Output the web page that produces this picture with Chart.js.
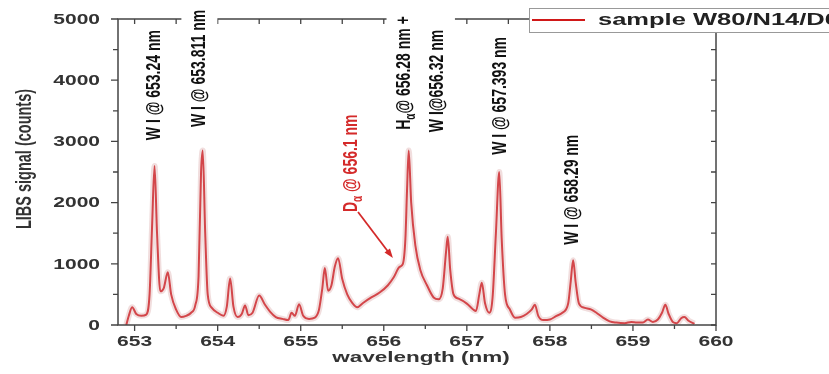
<!DOCTYPE html>
<html>
<head>
<meta charset="utf-8">
<title>LIBS spectrum</title>
<script src="https://cdn.jsdelivr.net/npm/chart.js@4"></script>
<style>
  html, body { margin: 0; padding: 0; background: #fff; }
  canvas { display: block; }
</style>
</head>
<body>
<canvas id="libsChart" width="829" height="374"></canvas>
<script>
// ── DATA ─────────────────────────────────────────────────────
const WL = [
  652.90, 652.93, 652.97, 653.02, 653.08, 653.14, 653.18, 653.21, 653.24, 653.27,
  653.31, 653.35, 653.40, 653.44, 653.50, 653.56, 653.62, 653.68, 653.73, 653.77,
  653.80, 653.82, 653.85, 653.88, 653.93, 654.00, 654.07, 654.11, 654.15, 654.19,
  654.24, 654.29, 654.33, 654.37, 654.42, 654.50, 654.57, 654.63, 654.70, 654.78,
  654.85, 654.89, 654.93, 654.98, 655.03, 655.10, 655.17, 655.22, 655.26, 655.29,
  655.33, 655.37, 655.41, 655.45, 655.50, 655.56, 655.62, 655.68, 655.75, 655.85,
  655.95, 656.05, 656.12, 656.19, 656.23, 656.26, 656.28, 656.30, 656.33, 656.38,
  656.44, 656.52, 656.60, 656.66, 656.71, 656.75, 656.77, 656.80, 656.84, 656.90,
  657.00, 657.08, 657.11, 657.15, 657.18, 657.22, 657.27, 657.31, 657.35, 657.39,
  657.42, 657.46, 657.52, 657.58, 657.65, 657.72, 657.78, 657.82, 657.86, 657.92,
  658.00, 658.08, 658.15, 658.22, 658.25, 658.28, 658.31, 658.35, 658.42, 658.50,
  658.56, 658.64, 658.72, 658.80, 658.90, 658.98, 659.05, 659.12, 659.18, 659.24,
  659.30, 659.35, 659.39, 659.43, 659.48, 659.53, 659.58, 659.62, 659.67, 659.74
];
const COUNTS = [
   0,  150,  290,  180,  150,  170,  500, 1600, 2600, 1500,
   550,  600,  860,  500,  250,  130,  150,  200,  320,  800,
  2500, 2850, 1500,  500,  280,  200,  150,  300,  760,  300,
   130,  180,  320,  160,  200,  480,  330,  220,  130,  100,
    80,  200,  150,  340,  150,  100,  120,  250,  600,  930,
   560,  650,  950, 1090,  750,  500,  360,  290,  360,  450,
   530,  650,  780,  950, 1000, 1400, 2200, 2850, 2000, 1300,
   900,  650,  450,  420,  600, 1200, 1440,  900,  500,  430,
   350,  250,  230,  500,  690,  350,  200,  450, 1500, 2500,
  1400,  500,  250,  120,  130,  180,  250,  330,  150,   80,
    90,  150,  200,  350,  700, 1060,  700,  350,  280,  250,
   200,  120,   60,   40,   30,   50,   40,   40,   90,   50,
    90,  200,  330,  180,   50,   30,  110,  130,   70,   20
];

const X_TICKS = [653, 654, 655, 656, 657, 658, 659, 660];
const X_MINOR = [653.5, 654.5, 655.5, 656.5, 657.5, 658.5, 659.5];
const Y_TICKS = [0, 1000, 2000, 3000, 4000, 5000];
const Y_MINOR = [500, 1500, 2500, 3500, 4500];

// peak annotations: text pieces (sub = subscript), anchor wavelength, counts at text start
const LABEL_PARTS = [
  [['W I @ 653.24 nm']],
  [['W I @ 653.811 nm']],
  [['D'], ['α', 1], [' @ 656.1 nm']],
  [['H'], ['α', 1], ['@ 656.28 nm +']],
  [['W I@656.32 nm']],
  [['W I @ 657.393 nm']],
  [['W I @ 658.29 nm']]
];
const LABEL_WL     = [653.24, 653.78, 655.61, 656.25, 656.64, 657.40, 658.27];
const LABEL_Y      = [3020, 3235, 1845, 3190, 3150, 2780, 1310];
const LABEL_COLOR  = ['#111', '#111', '#d42a2a', '#111', '#111', '#111', '#111'];
const LABEL_CLEAR  = [0, 0, 0, 0, 16, 0, 0];   // extra white above the text

const ARROW_FROM = [655.69, 1846];
const ARROW_TO   = [656.11, 1095];

const SERIES_NAME = 'sample W80/N14/D6';

// ── CHART ────────────────────────────────────────────────────
const SX = 1.5;   // the source figure is stretched sideways
const FONT = "'Liberation Sans', Arial, sans-serif";
const spectrum = WL.map((x, i) => ({ x, y: COUNTS[i] }));

function stretchedText(ctx, text, x, y, size, align, rot, color) {
  ctx.save();
  ctx.translate(x, y);
  ctx.scale(SX, 1);
  if (rot) ctx.rotate(-Math.PI / 2);
  ctx.font = `bold ${size}px ${FONT}`;
  ctx.textAlign = align;
  ctx.textBaseline = 'middle';
  ctx.fillStyle = color || '#333';
  ctx.fillText(text, 0, 0);
  ctx.restore();
}

const decor = {
  id: 'decor',
  afterDatasetsDraw(chart) {
    const { ctx, chartArea: a, scales: { x, y } } = chart;
    ctx.save();

    // frame
    ctx.strokeStyle = '#444';
    ctx.lineWidth = 1.5;
    ctx.strokeRect(a.left, a.top, a.right - a.left, a.bottom - a.top);

    // ticks
    ctx.lineWidth = 1.3;
    ctx.beginPath();
    X_TICKS.concat(X_MINOR).forEach(v => {
      const px = x.getPixelForValue(v);
      const len = X_TICKS.includes(v) ? 6 : 4;
      ctx.moveTo(px, a.bottom); ctx.lineTo(px, a.bottom + len);
      ctx.moveTo(px, a.top); ctx.lineTo(px, a.top + 5);
    });
    Y_TICKS.concat(Y_MINOR).forEach(v => {
      const py = y.getPixelForValue(v);
      const len = Y_TICKS.includes(v) ? 7 : 5;
      ctx.moveTo(a.left, py); ctx.lineTo(a.left - len, py);
      ctx.moveTo(a.right, py); ctx.lineTo(a.right - 5, py);
    });
    ctx.stroke();

    // tick labels
    X_TICKS.forEach(v => stretchedText(ctx, String(v), x.getPixelForValue(v), a.bottom + 17, 14, 'center'));
    Y_TICKS.forEach(v => stretchedText(ctx, String(v), a.left - 18, y.getPixelForValue(v) + 1, 14, 'right'));

    // axis titles
    stretchedText(ctx, 'wavelength (nm)', (a.left + a.right) / 2 + 4, a.bottom + 33, 15, 'center');
    stretchedText(ctx, 'LIBS signal (counts)', 25, 159, 14.5, 'center', true);

    // peak labels, white box behind each
    LABEL_PARTS.forEach((parts, i) => {
      const px = x.getPixelForValue(LABEL_WL[i]);
      const py = y.getPixelForValue(LABEL_Y[i]);
      ctx.save();
      ctx.translate(px, py);
      ctx.scale(SX, 1);
      ctx.rotate(-Math.PI / 2);
      ctx.textBaseline = 'middle';
      ctx.textAlign = 'left';
      let w = 0;
      parts.forEach(p => { ctx.font = `bold ${p[1] ? 10 : 14}px ${FONT}`; w += ctx.measureText(p[0]).width; });
      ctx.fillStyle = '#fff';
      ctx.fillRect(-2, -12, w + 4 + LABEL_CLEAR[i], 24);
      ctx.fillStyle = LABEL_COLOR[i];
      let cx = 0;
      parts.forEach(p => {
        ctx.font = `bold ${p[1] ? 10 : 14}px ${FONT}`;
        ctx.fillText(p[0], cx, p[1] ? 4 : 0);
        cx += ctx.measureText(p[0]).width;
      });
      ctx.restore();
    });

    // arrow to the D-alpha shoulder
    const x0 = x.getPixelForValue(ARROW_FROM[0]), y0 = y.getPixelForValue(ARROW_FROM[1]);
    const x1 = x.getPixelForValue(ARROW_TO[0]),   y1 = y.getPixelForValue(ARROW_TO[1]);
    const ang = Math.atan2(y1 - y0, x1 - x0);
    ctx.strokeStyle = '#d42a2a';
    ctx.fillStyle = '#d42a2a';
    ctx.lineWidth = 1.8;
    ctx.beginPath(); ctx.moveTo(x0, y0); ctx.lineTo(x1 - 6 * Math.cos(ang), y1 - 6 * Math.sin(ang)); ctx.stroke();
    ctx.beginPath();
    ctx.moveTo(x1, y1);
    ctx.lineTo(x1 - 10 * Math.cos(ang - 0.35), y1 - 10 * Math.sin(ang - 0.35));
    ctx.lineTo(x1 - 10 * Math.cos(ang + 0.35), y1 - 10 * Math.sin(ang + 0.35));
    ctx.closePath(); ctx.fill();

    // legend box (runs off the right edge like the source)
    ctx.fillStyle = '#fff';
    ctx.fillRect(529, 8, 320, 24);
    ctx.strokeStyle = '#999';
    ctx.lineWidth = 1;
    ctx.strokeRect(529.5, 8.5, 320, 24);
    ctx.strokeStyle = '#d01818';
    ctx.lineWidth = 2;
    ctx.beginPath(); ctx.moveTo(532, 20); ctx.lineTo(585, 20); ctx.stroke();
    stretchedText(ctx, SERIES_NAME, 598, 20, 17, 'left', false, '#222');

    ctx.restore();
  }
};

new Chart(document.getElementById('libsChart'), {
  type: 'line',
  data: {
    datasets: [
      {
        // spread of the repeated shots, drawn as a soft halo
        data: spectrum,
        borderColor: 'rgba(215,160,160,0.35)',
        borderWidth: 6,
        pointRadius: 0,
        cubicInterpolationMode: 'monotone',
        fill: false
      },
      {
        label: SERIES_NAME,
        data: spectrum,
        borderColor: '#d2161c',
        borderWidth: 2,
        pointRadius: 0,
        cubicInterpolationMode: 'monotone',
        fill: false
      }
    ]
  },
  options: {
    responsive: false,
    animation: false,
    devicePixelRatio: 1,
    layout: { padding: { left: 118, top: 19, right: 113, bottom: 49 } },
    scales: {
      x: { type: 'linear', min: 652.8, max: 660, display: false },
      y: { min: 0, max: 5000, display: false }
    },
    plugins: { legend: { display: false }, tooltip: { enabled: false } }
  },
  plugins: [decor]
});
</script>
</body>
</html>
